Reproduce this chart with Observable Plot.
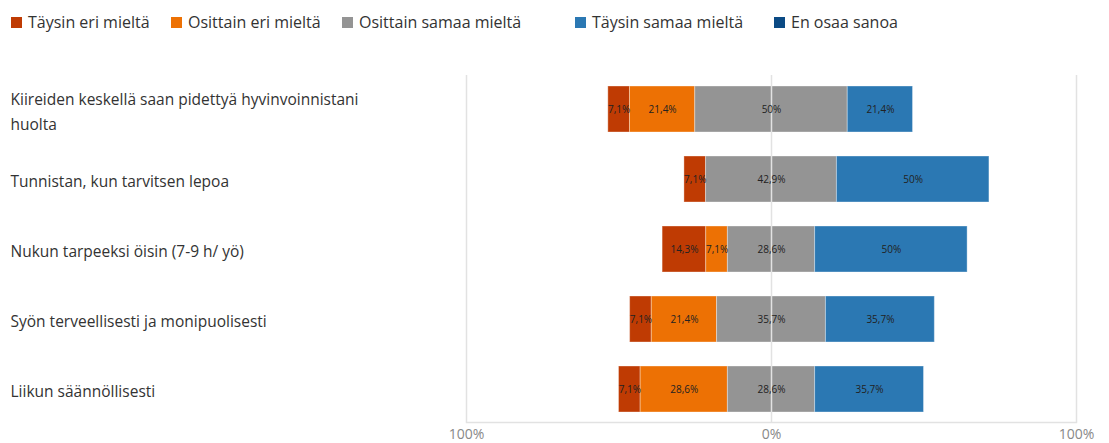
<!DOCTYPE html>
<html>
<head>
<meta charset="utf-8">
<script src="https://cdn.jsdelivr.net/npm/d3@7"></script>
<script src="https://cdn.jsdelivr.net/npm/@observablehq/plot@0.6"></script>
<style>
  html, body { margin: 0; padding: 0; background: #fff; }
  body { width: 1109px; height: 443px; overflow: hidden; font-family: "Open Sans", "Noto Sans", sans-serif; }
  #legend { position: relative; height: 45px; width: 1109px; }
  .item { position: absolute; top: 12px; height: 20px; display: flex; align-items: center; font-size: 16px; color: #333; white-space: nowrap; }
  .sw { width: 11px; height: 11px; margin-right: 6px; }
  #chart svg { display: block; }
</style>
</head>
<body>
<div id="legend"></div>
<div id="chart"></div>
<script>
const questions = [
  "Kiireiden keskellä saan pidettyä hyvinvoinnistani huolta",
  "Tunnistan, kun tarvitsen lepoa",
  "Nukun tarpeeksi öisin (7-9 h/ yö)",
  "Syön terveellisesti ja monipuolisesti",
  "Liikun säännöllisesti"
];
const categories = ["Täysin eri mieltä", "Osittain eri mieltä", "Osittain samaa mieltä", "Täysin samaa mieltä", "En osaa sanoa"];
const colors = ["#bf3b03", "#ed7104", "#949494", "#2b78b3", "#0b4a84"];
const taysinEri = [7.1, 7.1, 14.3, 7.1, 7.1];
const osittainEri = [21.4, 0, 7.1, 21.4, 28.6];
const osittainSamaa = [50, 42.9, 28.6, 35.7, 28.6];
const taysinSamaa = [21.4, 50, 50, 35.7, 35.7];
const enOsaaSanoa = [0, 0, 0, 0, 0];
const xTicks = [-100, 0, 100];
const legendLeft = [28, 188, 359, 592, 791];

const series = [taysinEri, osittainEri, osittainSamaa, taysinSamaa, enOsaaSanoa];

// Build stacked diverging table: centered on middle of the third category
const table = [];
questions.forEach((q, i) => {
  let start = -(series[0][i] + series[1][i] + series[2][i] / 2);
  categories.forEach((c, k) => {
    const v = series[k][i];
    table.push({question: q, category: c, value: v, x1: start, x2: start + v});
    start += v;
  });
});

// legend
const legend = document.getElementById("legend");
categories.forEach((c, k) => {
  const it = document.createElement("div");
  it.className = "item";
  it.style.left = (legendLeft[k] - 17) + "px";
  const sw = document.createElement("span");
  sw.className = "sw";
  sw.style.background = colors[k];
  const tx = document.createElement("span");
  tx.textContent = c;
  it.appendChild(sw); it.appendChild(tx);
  legend.appendChild(it);
});

const wrap = (s) => {
  if (s.length <= 50) return s;
  const cut = s.lastIndexOf(" ", 50);
  return s.slice(0, cut) + "\n" + s.slice(cut + 1);
};
const fmt = (v) => String(v).replace(".", ",") + "%";

const chart = Plot.plot({
  width: 1109,
  height: 398,
  marginLeft: 466,
  marginRight: 33,
  marginTop: 30,
  marginBottom: 21,
  style: {fontFamily: "'Open Sans', 'Noto Sans', sans-serif", background: "white"},
  x: {domain: [-100, 100], ticks: xTicks, tickFormat: d => Math.abs(d) + "%", label: null},
  y: {domain: questions, paddingInner: 0.345, paddingOuter: 0.1425, axis: null, label: null},
  color: {domain: categories, range: colors},
  marks: [
    Plot.barX(table.filter(d => d.value > 0), {
      y: "question", x1: "x1", x2: "x2", fill: "category",
      stroke: "white", strokeOpacity: 0.35, strokeWidth: 1, inset: 0
    }),
    Plot.ruleX(xTicks, {stroke: "#e2e2e2", strokeWidth: 1.5}),
    Plot.frame({anchor: "bottom", stroke: "#e2e2e2", strokeWidth: 1.5}),
    Plot.text(table.filter(d => d.value > 0), {
      y: "question", x: d => (d.x1 + d.x2) / 2, text: d => fmt(d.value),
      fontSize: 10, fill: "#222"
    }),
    Plot.text(questions, {
      y: d => d, text: d => wrap(d), frameAnchor: "left", textAnchor: "start",
      dx: -456, fontSize: 15.5, fill: "#333", lineHeight: 1.6
    }),
    Plot.axisX(xTicks, {tickSize: 0, tickPadding: 7, fontSize: 14, fill: "#888", tickFormat: d => Math.abs(d) + "%", label: null})
  ]
});
document.getElementById("chart").appendChild(chart);
</script>
</body>
</html>
